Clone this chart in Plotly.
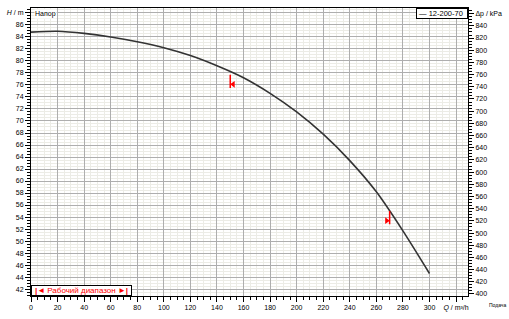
import plotly.graph_objects as go

# ---- data ----
series_name = "12-200-70"
Q = [0, 20, 40, 60, 80, 100, 120, 140, 160, 180, 200, 220, 240, 260, 280, 300]
H = [84.8, 84.95, 84.6, 84.0, 83.2, 82.2, 80.9, 79.2, 77.2, 74.6, 71.5, 67.8, 63.4, 58.2, 51.7, 44.6]
wr_Q = [150, 270]          # working range limits
wr_H = [77.7, 55.0]        # head at working range limits
x_tick_vals = list(range(0, 301, 20))
y_tick_vals = list(range(42, 87, 2))
kpa_tick_vals = list(range(400, 841, 20))
x_title, y_title, y2_title = "<i>Q</i> / m³/h", "<i>H</i> / m", "Δp / kPa"

FONT = "Liberation Sans, Arial, sans-serif"
MAJ = "#aeaeae"
MIN = "#ececE6"

fig = go.Figure()
fig.add_trace(go.Scatter(x=Q, y=H, mode="lines", line=dict(color="#333333", width=1.6, shape="spline", smoothing=0.8),
                         name=series_name, showlegend=False))
fig.add_trace(go.Scatter(x=[None], y=[None], yaxis="y2", showlegend=False, hoverinfo="skip"))

# working-range markers
for q, h, sym, dx in zip(wr_Q, wr_H, ["triangle-left", "triangle-right"], [2.2, -2.2]):
    fig.add_shape(type="line", x0=q, x1=q, y0=h, y1=h - 2.2, line=dict(color="red", width=1.5))
    fig.add_trace(go.Scatter(x=[q + dx], y=[h - 1.6], mode="markers", showlegend=False,
                             marker=dict(symbol=sym, size=6, color="red")))

axis_common = dict(showline=True, linecolor="black", linewidth=1, ticks="outside", tickcolor="black",
                   ticklen=5, tickwidth=1, tickfont=dict(size=7, color="black", family=FONT),
                   zeroline=False)

fig.update_layout(
    width=509, height=319,
    margin=dict(l=28, r=38, t=7, b=22),
    paper_bgcolor="white", plot_bgcolor="white",
    font=dict(family=FONT, size=7, color="black"),
    xaxis=dict(range=[0, 329], tickvals=x_tick_vals + [320],
               ticktext=[str(v) for v in x_tick_vals] + [x_title],
               showgrid=True, gridcolor=MAJ, gridwidth=1, mirror=True,
               minor=dict(dtick=5, tick0=0, ticklen=3, ticks="outside", tickcolor="black",
                          showgrid=True, gridcolor=MIN, gridwidth=1),
               **axis_common),
    yaxis=dict(range=[40.85, 88.82], tickvals=y_tick_vals + [88],
               ticktext=[str(v) for v in y_tick_vals] + [y_title],
               showgrid=True, gridcolor=MAJ, gridwidth=1,
               minor=dict(dtick=0.5, tick0=0, ticklen=3, ticks="outside", tickcolor="black",
                          showgrid=True, gridcolor=MIN, gridwidth=1),
               **axis_common),
    yaxis2=dict(range=[396.7, 869.3], overlaying="y", side="right",
                tickvals=kpa_tick_vals + [860],
                ticktext=[str(v) for v in kpa_tick_vals] + [y2_title],
                showgrid=False,
                minor=dict(dtick=5, tick0=0, ticklen=3, ticks="outside", tickcolor="black", showgrid=False),
                **axis_common),
)

fig.add_annotation(xref="paper", yref="paper", x=0, y=1, xanchor="left", yanchor="top",
                   text="Напор", showarrow=False, xshift=3, yshift=-1,
                   font=dict(size=7, color="black"), bgcolor="white", borderpad=0)
fig.add_annotation(xref="paper", yref="paper", x=1, y=1, xanchor="right", yanchor="top",
                   text="— " + series_name + " ", showarrow=False, width=50,
                   font=dict(size=7.5, color="black"), bgcolor="white",
                   bordercolor="black", borderwidth=1, borderpad=0)
fig.add_annotation(xref="paper", yref="paper", x=1.043, y=-0.03, xanchor="left", yanchor="middle",
                   text="Подача", showarrow=False, font=dict(size=5, color="black"))
fig.add_annotation(xref="paper", yref="paper", x=0, y=0, xanchor="left", yanchor="bottom",
                   text="<b>|</b>◄ Рабочий диапазон ►<b>|</b>", showarrow=False, width=99,
                   font=dict(size=8, color="red"), bgcolor="white",
                   bordercolor="black", borderwidth=1, borderpad=0)

fig.write_html("out.html")
